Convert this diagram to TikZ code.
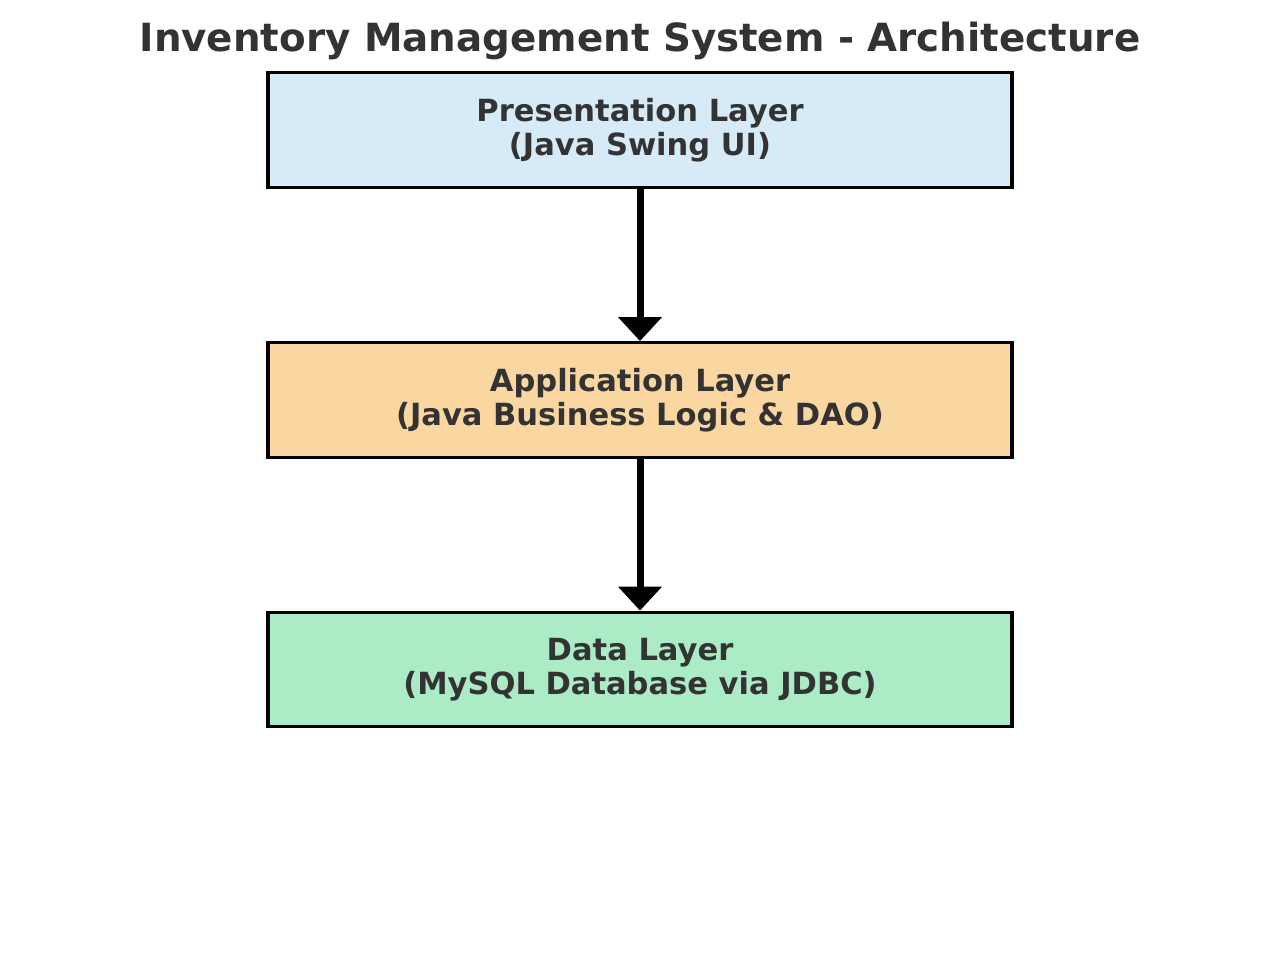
\documentclass[tikz,border=0pt]{standalone}
\usepackage{fontspec}
\setmainfont{DejaVu Sans}
\usetikzlibrary{arrows.meta}
\definecolor{txt}{HTML}{333333}
\definecolor{cblue}{HTML}{D6EAF8}
\definecolor{corange}{HTML}{FAD7A0}
\definecolor{cgreen}{HTML}{ABEBC6}
\tikzset{
  layer/.style={draw=black, line width=2.4pt, minimum width=558pt, minimum height=86pt,
    inner sep=0pt, align=center, text=txt,
    font=\fontsize{22.9pt}{25.5pt}\selectfont\bfseries},
  flow/.style={line width=5.25pt, -{Triangle[length=18pt,width=32pt]}, shorten >=0pt}
}
\begin{document}
\begin{tikzpicture}[x=0.75pt,y=-0.75pt]
\useasboundingbox (0,0) rectangle (1280,978);
\node[text=txt, font=\fontsize{29.1pt}{32pt}\selectfont\bfseries] (title) at (640,40.5) {Inventory Management System - Architecture};
\node[layer, fill=cblue] (pres) at (640,130) {Presentation Layer\\(Java Swing UI)};
\node[layer, fill=corange] (app) at (640,400) {Application Layer\\(Java Business Logic \& DAO)};
\node[layer, fill=cgreen] (data) at (640,669.5) {Data Layer\\(MySQL Database via JDBC)};
\draw[flow] (pres.south) -- (app.north);
\draw[flow] (app.south) -- (data.north);
\end{tikzpicture}
\end{document}
